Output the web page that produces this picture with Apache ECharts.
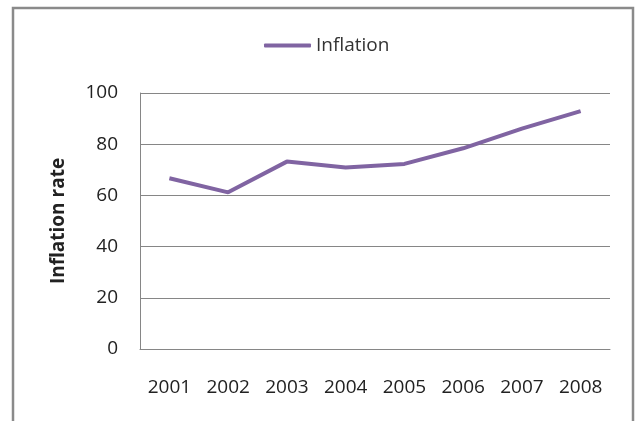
<!DOCTYPE html>
<html>
<head>
<meta charset="utf-8">
<script src="https://cdn.jsdelivr.net/npm/echarts@6/dist/echarts.min.js"></script>
<style>
html,body{margin:0;padding:0;background:#fff;}
#chart{width:639px;height:421px;}
</style>
</head>
<body>
<div id="chart"></div>
<script>
const categories = ['2001','2002','2003','2004','2005','2006','2007','2008'];
const inflation = [66.7, 61.2, 73.2, 70.9, 72.3, 78.4, 86.1, 92.9];
const yTicks = [0, 20, 40, 60, 80, 100];
const seriesName = 'Inflation';
const yAxisTitle = 'Inflation rate';

const FONT = '"Open Sans", sans-serif';
const chart = echarts.init(document.getElementById('chart'), null, {renderer: 'canvas'});
chart.setOption({
  animation: false,
  backgroundColor: '#ffffff',
  graphic: [{
    type: 'rect',
    shape: {x: 13, y: 8, width: 620, height: 500},
    style: {fill: 'none', stroke: '#8a8a8a', lineWidth: 2.5},
    silent: true
  }],
  legend: {
    data: [{name: seriesName, icon: 'roundRect'}],
    left: 259,
    top: 31,
    itemWidth: 47,
    itemHeight: 4,
    itemStyle: {color: '#8064A2'},
    textStyle: {fontFamily: FONT, fontSize: 19, color: '#333333'}
  },
  grid: {left: 140, right: 29, top: 93, bottom: 72, containLabel: false},
  xAxis: {
    type: 'category',
    data: categories,
    boundaryGap: true,
    axisLine: {show: true, lineStyle: {color: '#868686', width: 1}},
    axisTick: {show: false},
    axisLabel: {fontFamily: FONT, fontSize: 19, color: '#222222', margin: 29}
  },
  yAxis: {
    type: 'value',
    min: yTicks[0],
    max: yTicks[yTicks.length - 1],
    interval: yTicks[1] - yTicks[0],
    name: yAxisTitle,
    nameLocation: 'middle',
    nameGap: 72,
    nameRotate: 90,
    nameTextStyle: {fontFamily: FONT, fontSize: 19, fontWeight: 'bold', color: '#222222'},
    axisLine: {show: true, lineStyle: {color: '#868686', width: 1}},
    axisTick: {show: false},
    axisLabel: {fontFamily: FONT, fontSize: 19, color: '#222222', margin: 22},
    splitLine: {show: true, lineStyle: {color: '#868686', width: 1}}
  },
  series: [{
    name: seriesName,
    type: 'line',
    data: inflation,
    symbol: 'none',
    lineStyle: {color: '#8064A2', width: 4},
    itemStyle: {color: '#8064A2'}
  }]
});
</script>
</body>
</html>
